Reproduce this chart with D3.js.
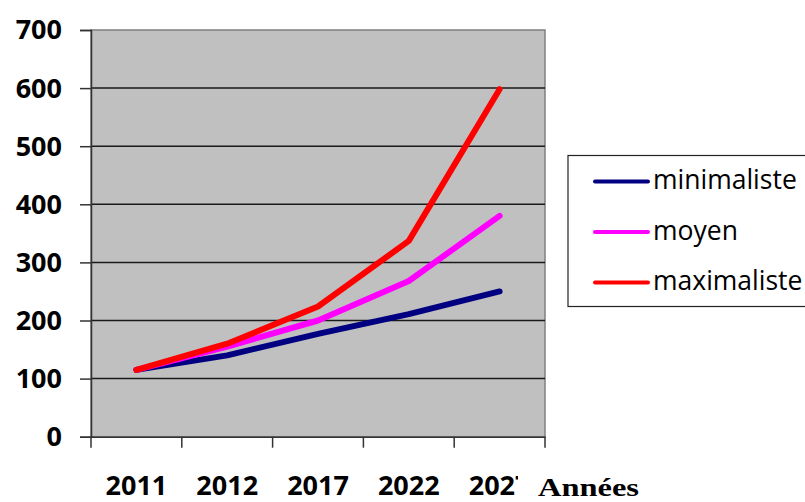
<!DOCTYPE html>
<html><head><meta charset="utf-8">
<script src="https://cdn.jsdelivr.net/npm/d3@7"></script>
<style>body{margin:0;background:#fff;}svg{display:block;}</style>
</head><body>
<svg id="c" width="805" height="502"></svg>
<script>
const years = ["2011", "2012", "2017", "2022", "2027"];
const minimaliste = [115, 140, 177, 211, 250];
const moyen = [115, 155, 200, 268, 380];
const maximaliste = [115, 160, 224, 337, 598];
const yTicks = [0, 100, 200, 300, 400, 500, 600, 700];
const seriesNames = ["minimaliste", "moyen", "maximaliste"];
const seriesColors = ["#000080", "#ff00ff", "#ff0000"];
const xTitle = "Années";

const series = [minimaliste, moyen, maximaliste];
const svg = d3.select("#c");
const L = 91, R = 545, T = 30, B = 436.7;

const x = d3.scaleBand().domain(years).range([L, R]);
const y = d3.scaleLinear().domain([0, 700]).range([B, T]);

svg.append("rect").attr("x", L).attr("y", T).attr("width", R - L).attr("height", B - T)
  .attr("fill", "#c0c0c0").attr("stroke", "#808080").attr("stroke-width", 1.5);

svg.append("g").selectAll("line").data(yTicks.filter(d => d > 0 && d < 700)).join("line")
  .attr("x1", L).attr("x2", R).attr("y1", d => y(d)).attr("y2", d => y(d))
  .attr("stroke", "#1a1a1a").attr("stroke-width", 1.5);

// y axis
const ya = svg.append("g").attr("transform", `translate(${L},0)`)
  .call(d3.axisLeft(y).tickValues(yTicks).tickSize(11).tickPadding(18));
ya.select(".domain").attr("stroke", "#333").attr("stroke-width", 1.5);
ya.selectAll(".tick line").attr("stroke", "#333").attr("stroke-width", 1.5);
ya.selectAll("text").attr("font-family", "'Open Sans', sans-serif").attr("font-weight", "bold")
  .attr("font-size", 27).attr("fill", "#000").attr("dy", "0.33em");

// x axis
const xa = svg.append("g").attr("transform", `translate(0,${B})`)
  .call(d3.axisBottom(x).tickSize(0));
xa.select(".domain").attr("stroke", "#333").attr("stroke-width", 1.5);
xa.selectAll("text").attr("font-family", "'Open Sans', sans-serif").attr("font-weight", "bold")
  .attr("font-size", 27).attr("fill", "#000").attr("y", 58.5).attr("dy", 0);
const xEdges = years.map(d => x(d)).concat([R]);
svg.append("g").selectAll("line").data(xEdges).join("line")
  .attr("x1", d => d).attr("x2", d => d).attr("y1", B).attr("y2", B + 11)
  .attr("stroke", "#333").attr("stroke-width", 1.5);

// lines
const line = d3.line().x((d, i) => x(years[i]) + x.bandwidth() / 2).y(d => y(d));
svg.append("g").selectAll("path").data(series).join("path")
  .attr("d", d => line(d)).attr("fill", "none")
  .attr("stroke", (d, i) => seriesColors[i]).attr("stroke-width", 6)
  .attr("stroke-linecap", "round").attr("stroke-linejoin", "round");

// x title with white background
svg.append("rect").attr("x", 518).attr("y", 452).attr("width", 130).attr("height", 50).attr("fill", "#fff");
svg.append("text").attr("x", 538).attr("y", 496).text(xTitle)
  .attr("font-family", "'Liberation Serif', serif").attr("font-weight", "bold")
  .attr("font-size", 26).attr("textLength", 101).attr("lengthAdjust", "spacingAndGlyphs")
  .attr("fill", "#000");

// legend
const lg = svg.append("g");
lg.append("rect").attr("x", 568).attr("y", 155.5).attr("width", 260).attr("height", 151)
  .attr("fill", "#fff").attr("stroke", "#222").attr("stroke-width", 1.2);
const ly = d3.scalePoint().domain(seriesNames).range([181.5, 282.5]);
const items = lg.selectAll("g").data(seriesNames).join("g")
  .attr("transform", d => `translate(0,${ly(d)})`);
items.append("line").attr("x1", 595).attr("x2", 648).attr("y1", 0).attr("y2", 0)
  .attr("stroke", (d, i) => seriesColors[i]).attr("stroke-width", 4).attr("stroke-linecap", "round");
items.append("text").attr("x", 653).attr("y", 7.5).text(d => d)
  .attr("font-family", "'Open Sans', sans-serif").attr("font-size", 26.5).attr("fill", "#000");
</script>
</body></html>
